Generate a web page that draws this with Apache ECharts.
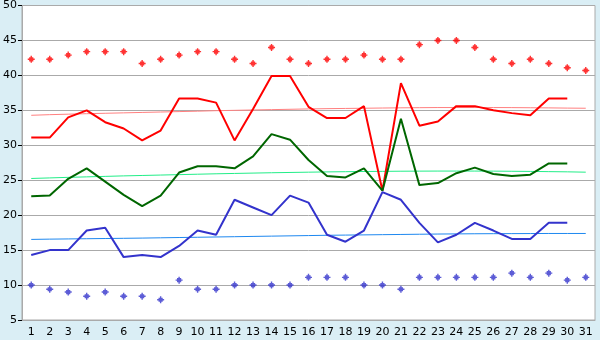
<!DOCTYPE html>
<html>
<head>
<meta charset="utf-8">
<script src="https://cdn.jsdelivr.net/npm/echarts@6/dist/echarts.min.js"></script>
<style>
  html, body { margin: 0; padding: 0; background: #daeef5; }
  #chart { width: 600px; height: 340px; }
</style>
</head>
<body>
<div id="chart"></div>
<script>
// days of month
const days = ['1','2','3','4','5','6','7','8','9','10','11','12','13','14','15','16','17','18','19','20','21','22','23','24','25','26','27','28','29','30','31'];
const yTicks = [5, 50, 5]; // min, max, step

// record highs / lows (dots)
const recordHigh = [42.3,42.3,42.9,43.4,43.4,43.4,41.7,42.3,42.9,43.4,43.4,42.3,41.7,44.0,42.3,41.7,42.3,42.3,42.9,42.3,42.3,44.4,45.0,45.0,44.0,42.3,41.7,42.3,41.7,41.1,40.7];
const recordLow = [10.0,9.4,9.0,8.4,9.0,8.4,8.4,7.9,10.7,9.4,9.4,10.0,10.0,10.0,10.0,11.1,11.1,11.1,10.0,10.0,9.4,11.1,11.1,11.1,11.1,11.1,11.7,11.1,11.7,10.7,11.1];

// daily lines
const highs = [31.1,31.1,34.0,35.0,33.3,32.4,30.7,32.1,36.7,36.7,36.1,30.7,35.2,39.9,39.9,35.5,33.9,33.9,35.6,23.5,38.9,32.8,33.4,35.6,35.6,35.0,34.6,34.3,36.7,36.7,null];
const means = [22.7,22.8,25.2,26.7,24.8,22.9,21.3,22.8,26.1,27.0,27.0,26.7,28.4,31.6,30.8,27.9,25.6,25.4,26.7,23.5,33.8,24.3,24.6,26.0,26.8,25.9,25.6,25.8,27.4,27.4,null];
const lows = [14.3,15.0,15.0,17.8,18.2,14.0,14.3,14.0,15.6,17.8,17.2,22.2,21.1,20.0,22.8,21.8,17.2,16.2,17.8,23.3,22.2,18.9,16.1,17.2,18.9,17.8,16.6,16.6,18.9,18.9,null];

// trend lines
const highTrend = [34.29,34.38,34.45,34.52,34.58,34.64,34.70,34.76,34.82,34.88,34.95,35.00,35.05,35.10,35.15,35.20,35.24,35.27,35.30,35.33,35.36,35.38,35.40,35.40,35.40,35.40,35.39,35.37,35.35,35.32,35.30];
const meanTrend = [25.25,25.33,25.41,25.48,25.55,25.62,25.68,25.74,25.80,25.86,25.92,25.97,26.02,26.07,26.11,26.15,26.19,26.22,26.25,26.27,26.29,26.30,26.31,26.31,26.31,26.30,26.28,26.26,26.23,26.20,26.15];
const lowTrend = [16.53,16.57,16.60,16.63,16.66,16.69,16.72,16.76,16.80,16.84,16.88,16.92,16.96,17.00,17.04,17.08,17.12,17.15,17.18,17.21,17.24,17.27,17.30,17.32,17.34,17.35,17.36,17.37,17.38,17.38,17.38];

const chart = echarts.init(document.getElementById('chart'));
const font = 'DejaVu Sans';
// small stepped diamond, like the pixel markers of the original
const marker = 'path://M2,0H3V1H4V2H5V3H4V4H3V5H2V4H1V3H0V2H1V1H2Z';

function line(data, color, width) {
    return {
        type: 'line', data: data, symbol: 'none', animation: false,
        lineStyle: { color: color, width: width }
    };
}
function dots(data, color) {
    return {
        type: 'scatter', data: data, symbol: marker, symbolSize: 7, animation: false,
        itemStyle: { color: color }
    };
}

chart.setOption({
    backgroundColor: '#daeef5',
    grid: {
        left: 20, right: 5, top: 5, bottom: 20,
        show: true, backgroundColor: '#ffffff', borderColor: '#aaaaaa', borderWidth: 1
    },
    xAxis: {
        type: 'category', data: days, boundaryGap: true,
        axisLine: { lineStyle: { color: '#aaaaaa' } },
        axisTick: { alignWithLabel: true, length: 5, lineStyle: { color: '#000' } },
        axisLabel: { color: '#000', fontFamily: font, fontSize: 11, margin: 7, interval: 0 },
        splitLine: { show: false }
    },
    yAxis: {
        type: 'value', min: yTicks[0], max: yTicks[1], interval: yTicks[2],
        axisLine: { show: true, lineStyle: { color: '#aaaaaa' } },
        axisTick: { show: true, length: 4, lineStyle: { color: '#000' } },
        axisLabel: { color: '#000', fontFamily: font, fontSize: 11, margin: 5 },
        splitLine: { lineStyle: { color: '#aaaaaa', width: 1 } }
    },
    series: [
        line(highTrend, '#ff8080', 1),
        line(meanTrend, '#22ee88', 1),
        line(lowTrend, '#1e88f0', 1),
        line(highs, '#ff0000', 2),
        line(means, '#006600', 2),
        line(lows, '#3333cc', 2),
        dots(recordHigh, '#ff0000'),
        dots(recordLow, '#3333cc')
    ]
});
</script>
</body>
</html>
